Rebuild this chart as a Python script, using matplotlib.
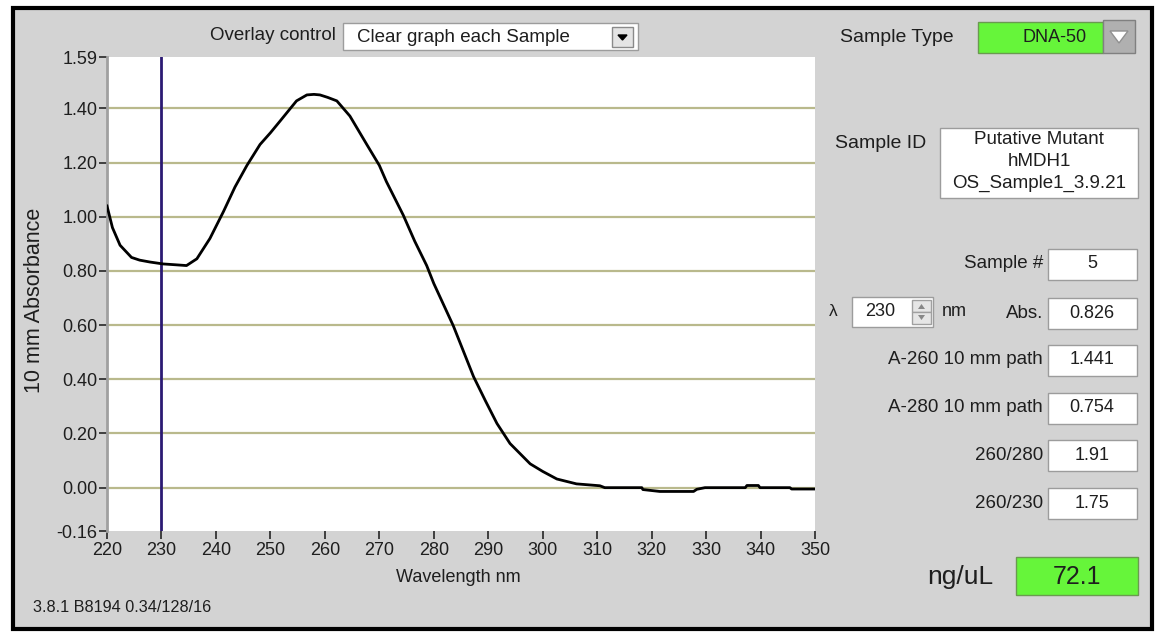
import matplotlib
matplotlib.use("Agg")
import matplotlib.pyplot as plt
from matplotlib.patches import Rectangle, Polygon

plt.rcParams['font.family'] = ['Liberation Sans', 'DejaVu Sans']

# spectrum (wavelength nm, absorbance)
wavelength = [220.0, 220.5, 221.0, 222.4, 224.5, 226.0, 227.9, 230.3, 232.5, 234.6,
              236.5, 238.9, 241.4, 243.5, 245.7, 248.1, 250.0, 251.8, 254.8, 256.7,
              258.0, 259.1, 260.5, 262.2, 264.6, 267.7, 270.0, 271.3, 274.4, 276.5,
              278.7, 280.0, 283.6, 287.3, 289.5, 291.6, 294.0, 297.7, 300.0, 302.6,
              306.2, 310.5, 311.4, 318.2, 318.4, 321.5, 327.7, 328.3, 329.8, 337.2,
              337.5, 339.6, 339.9, 345.4, 345.7, 350.0]
absorbance = [1.04, 1.00, 0.96, 0.895, 0.85, 0.84, 0.833, 0.826, 0.823, 0.82,
              0.845, 0.92, 1.02, 1.11, 1.19, 1.267, 1.31, 1.354, 1.428, 1.45,
              1.452, 1.45, 1.441, 1.428, 1.372, 1.267, 1.19, 1.13, 1.006, 0.91,
              0.82, 0.754, 0.597, 0.41, 0.32, 0.237, 0.163, 0.088, 0.06, 0.032,
              0.014, 0.007, 0.0, 0.0, -0.007, -0.014, -0.014, -0.006, 0.0, 0.0,
              0.008, 0.008, 0.0, 0.0, -0.005, -0.005]

cursor_nm = 230
yticks = [-0.16, 0.0, 0.2, 0.4, 0.6, 0.8, 1.0, 1.2, 1.4, 1.59]
xticks = [220, 230, 240, 250, 260, 270, 280, 290, 300, 310, 320, 330, 340, 350]

# right hand readouts
row_labels = ["Sample #", "Abs.", "A-260 10 mm path", "A-280 10 mm path", "260/280", "260/230"]
row_values = ["5", "0.826", "1.441", "0.754", "1.91", "1.75"]
sample_id = ["Putative Mutant", "hMDH1", "OS_Sample1_3.9.21"]
sample_type = "DNA-50"
overlay = "Clear graph each Sample"
conc = "72.1"
footer = "3.8.1 B8194 0.34/128/16"

W, H = 1157, 633
GRAY = '#d3d3d3'
GREEN = '#66f53a'
TXT = '#1e1e1e'

fig = plt.figure(figsize=(W / 100, H / 100), dpi=100)
fig.patch.set_facecolor('white')

# background "panel" axes in pixel coords, y going down
bg = fig.add_axes([0, 0, 1, 1], zorder=0)
bg.set_xlim(0, W)
bg.set_ylim(H, 0)
bg.axis('off')

bg.add_patch(Rectangle((13, 8), 1139, 621, facecolor=GRAY, edgecolor='black', lw=3))


def box(x0, y0, x1, y1, fc='white', ec='#9c9c9c', lw=1):
    bg.add_patch(Rectangle((x0, y0), x1 - x0, y1 - y0, facecolor=fc, edgecolor=ec, lw=lw))


def label(x, y, s, ha='left', size=13.5, **kw):
    bg.text(x, y, s, ha=ha, va='center', fontsize=size, color=TXT, **kw)


# overlay control
label(336, 36, "Overlay control", ha='right', size=13.5)
box(343, 23, 638, 50)
label(357, 37, overlay, size=13.5)
box(612, 27, 633, 47, fc='#e4e4e4', ec='#8a8a8a')
bg.add_patch(Polygon([(618, 35), (627, 35), (622.5, 40)], closed=True, fc='black', ec='black'))

# sample type
label(840, 38, "Sample Type", size=14)
box(978, 22, 1103, 53, fc=GREEN, ec='#6a9a50')
box(1103, 20, 1135, 53, fc='#b0b0b0', ec='#808080')
bg.add_patch(Polygon([(1110, 31), (1128, 31), (1119, 43)], closed=True, fc='white', ec='#909090'))
label(1055, 37, sample_type, ha='center', size=13)

# sample id
label(835, 143, "Sample ID", size=14)
box(940, 128, 1138, 198)
for i, s in enumerate(sample_id):
    label(1039, 140 + i * 21.5, s, ha='center', size=13.5)

# readout rows
row_y = [264, 313, 360, 408, 455, 503]
for yy, lab, val in zip(row_y, row_labels, row_values):
    label(1043, yy, lab, ha='right', size=13.5)
    box(1048, yy - 15.5, 1137, yy + 15.5)
    label(1092, yy, val, ha='center', size=13)

# wavelength selector
label(829, 312, "\u03bb", size=12.5)
box(852, 297, 933, 327)
label(880, 312, str(cursor_nm), ha='center', size=13)
box(912, 300, 931, 312, fc='#e6e6e6', ec='#a0a0a0')
box(912, 312, 931, 324, fc='#e6e6e6', ec='#a0a0a0')
bg.add_patch(Polygon([(918, 309), (925, 309), (921.5, 304)], closed=True, fc='#888888', ec='none'))
bg.add_patch(Polygon([(918, 315), (925, 315), (921.5, 320)], closed=True, fc='#888888', ec='none'))
label(942, 312, "nm", size=13)

# concentration
label(927, 577, "ng/uL", size=19)
box(1016, 557, 1138, 595, fc=GREEN, ec='#6a9a50')
label(1077, 577, conc, ha='center', size=18)

# axis titles and footer
label(458, 578, "Wavelength nm", ha='center', size=13)
label(35, 300, "10 mm Absorbance", ha='center', size=15.5, rotation=90)
label(33, 607, footer, size=11.7)

# the spectrum plot
ax = fig.add_axes([107 / W, 1 - 531 / H, (815 - 107) / W, (531 - 57) / H], zorder=1)
ax.set_facecolor('white')
ax.set_xlim(220, 350)
ax.set_ylim(-0.16, 1.59)
for v in yticks[1:-1]:
    ax.axhline(v, color='#b9b98c', lw=1.6, zorder=1)
ax.axvline(cursor_nm, color='#2b1a73', lw=2, zorder=2)
ax.plot(wavelength, absorbance, color='black', lw=2, zorder=3)

ax.set_yticks(yticks)
ax.set_yticklabels(['%.2f' % v for v in yticks])
ax.set_xticks(xticks)
ax.set_xticklabels([str(v) for v in xticks])
ax.tick_params(axis='y', length=6, width=1.3, color='#333333', pad=1, labelsize=13, labelcolor=TXT)
ax.tick_params(axis='x', length=6, width=1.3, color='#333333', pad=2, labelsize=13, labelcolor=TXT)
for side in ['top', 'right', 'bottom']:
    ax.spines[side].set_visible(False)
ax.spines['left'].set_color('#a0a0a0')
ax.spines['left'].set_linewidth(2)

fig.savefig('out.png', dpi=100, facecolor='white')
